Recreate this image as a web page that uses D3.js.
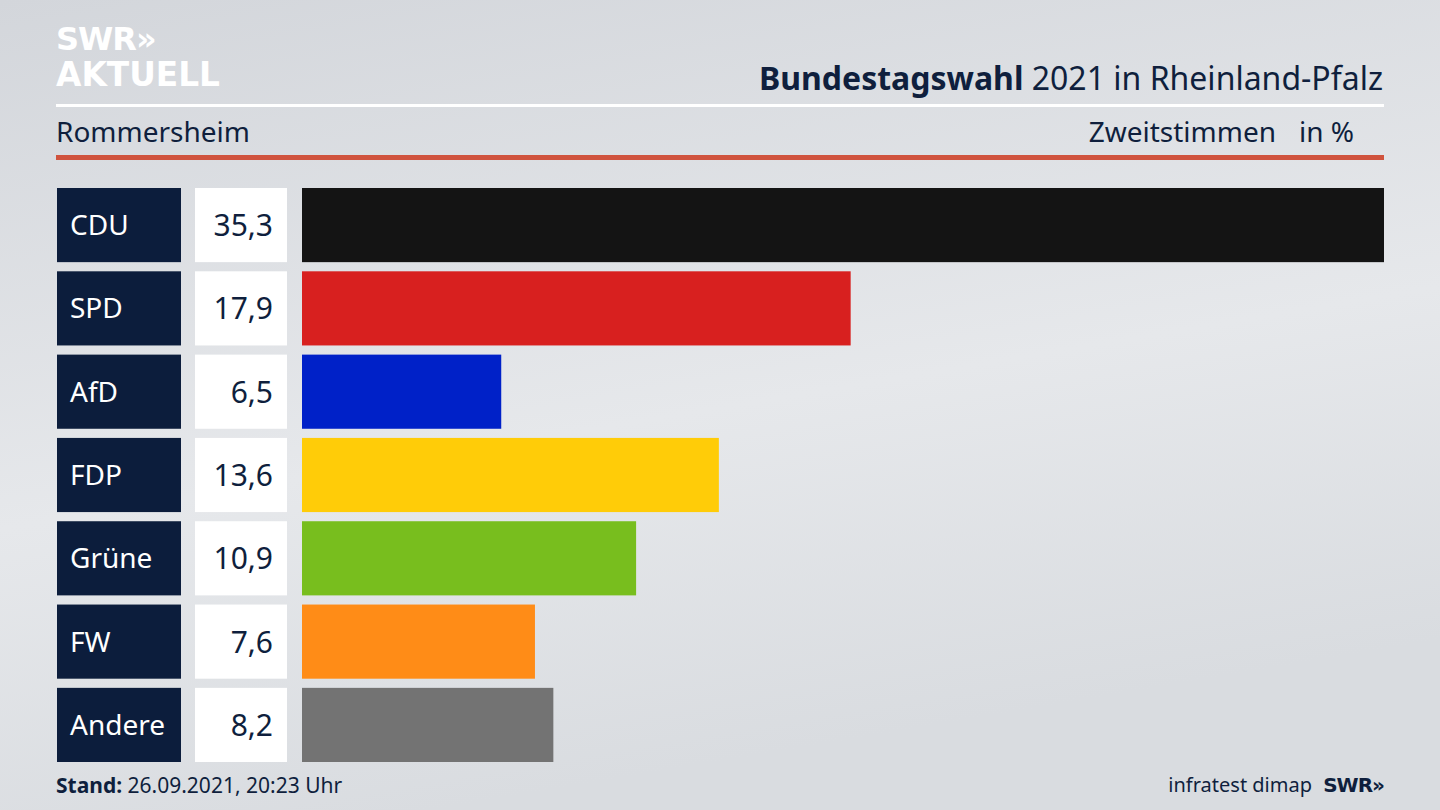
<!DOCTYPE html>
<html><head><meta charset="utf-8">
<script src="https://cdn.jsdelivr.net/npm/d3@7"></script>
<style>body{margin:0;overflow:hidden}svg{display:block;font-family:"Noto Sans","Open Sans",sans-serif}</style>
</head><body>
<svg id="c" width="1440" height="810"></svg>
<script>
const parties = ["CDU","SPD","AfD","FDP","Grüne","FW","Andere"];
const values = [35.3,17.9,6.5,13.6,10.9,7.6,8.2];
const colors = ["#141414","#d8201f","#0021c8","#ffcc08","#78be1e","#ff8c17","#737373"];
const ink = "#0f1f3d";
const svg = d3.select("#c");
const defs = svg.append("defs");
const g = defs.append("linearGradient").attr("id","bg").attr("x1",0).attr("y1",0).attr("x2",0.3).attr("y2",1);
g.append("stop").attr("offset",0).attr("stop-color","#d3d6db");
g.append("stop").attr("offset",0.6).attr("stop-color","#e6e8eb");
g.append("stop").attr("offset",1).attr("stop-color","#d9dce0");
svg.append("rect").attr("width",1440).attr("height",810).attr("fill","url(#bg)");

// logo
svg.append("text").attr("x",56).attr("y",50).attr("fill","#fff").attr("font-size",32).attr("font-weight",900).attr("font-family","DejaVu Sans").attr("letter-spacing",-1).text("SWR»");
svg.append("text").attr("x",56).attr("y",86).attr("fill","#fff").attr("font-size",33).attr("font-weight",700).attr("font-family","DejaVu Sans").attr("textLength",164).attr("lengthAdjust","spacingAndGlyphs").text("AKTUELL");

const t = svg.append("text").attr("x",1383).attr("y",90).attr("text-anchor","end").attr("fill",ink).attr("font-size",32);
t.append("tspan").attr("font-weight",700).text("Bundestagswahl");
t.append("tspan").text(" 2021 in Rheinland-Pfalz");
svg.append("rect").attr("x",56).attr("y",104).attr("width",1328).attr("height",3).attr("fill","#fff");
svg.append("text").attr("x",56).attr("y",142).attr("fill",ink).attr("font-size",28).text("Rommersheim");
svg.append("text").attr("x",1276).attr("y",142).attr("text-anchor","end").attr("fill",ink).attr("font-size",28).text("Zweitstimmen");
svg.append("text").attr("x",1354).attr("y",142).attr("text-anchor","end").attr("fill",ink).attr("font-size",28).text("in %");
svg.append("rect").attr("x",56).attr("y",155).attr("width",1328).attr("height",5).attr("fill","#d0533e");

const y = d3.scaleBand().domain(parties).range([188,762]).paddingInner(0.11).paddingOuter(0);
const x = d3.scaleLinear().domain([0,35.3]).range([302,1384]);
const rows = svg.selectAll("g.r").data(parties.map((p,i)=>({p,v:values[i],c:colors[i]}))).join("g");
rows.append("rect").attr("x",57).attr("width",124).attr("y",d=>y(d.p)).attr("height",y.bandwidth()).attr("fill","#0c1d3c");
rows.append("text").attr("x",70).attr("y",d=>y(d.p)+y.bandwidth()/2+10).attr("fill","#fff").attr("font-size",28).text(d=>d.p);
rows.append("rect").attr("x",195).attr("width",92).attr("y",d=>y(d.p)).attr("height",y.bandwidth()).attr("fill","#fff");
rows.append("text").attr("x",273).attr("text-anchor","end").attr("y",d=>y(d.p)+y.bandwidth()/2+11).attr("fill",ink).attr("font-size",30).text(d=>d3.format(".1f")(d.v).replace(".",","));
rows.append("rect").attr("x",x(0)).attr("width",d=>x(d.v)-x(0)).attr("y",d=>y(d.p)).attr("height",y.bandwidth()).attr("fill",d=>d.c);

const f = svg.append("text").attr("x",56).attr("y",793).attr("fill",ink).attr("font-size",21);
f.append("tspan").attr("font-weight",700).text("Stand:");
f.append("tspan").text(" 26.09.2021, 20:23 Uhr");
svg.append("text").attr("x",1312).attr("y",792).attr("text-anchor","end").attr("fill",ink).attr("font-size",20).text("infratest dimap");
svg.append("text").attr("x",1384).attr("y",792).attr("text-anchor","end").attr("fill",ink).attr("font-size",20).attr("font-weight",900).attr("font-family","DejaVu Sans").attr("letter-spacing",-1).text("SWR»");
</script></body></html>
